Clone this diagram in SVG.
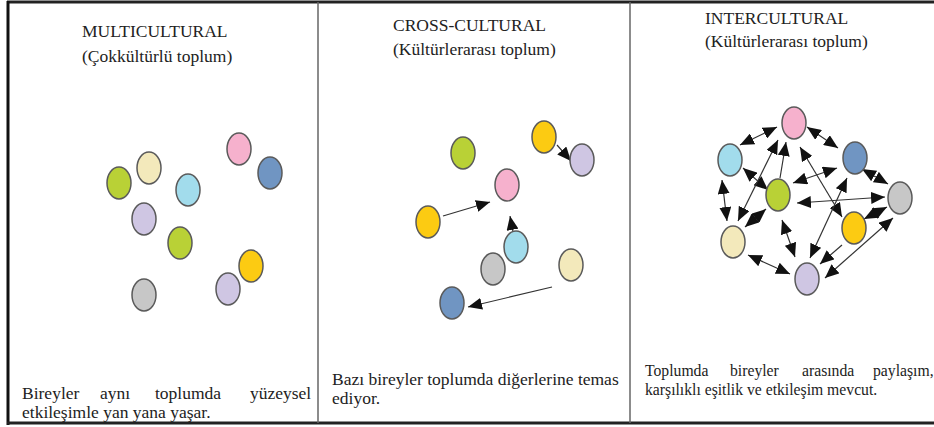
<svg xmlns="http://www.w3.org/2000/svg" width="934" height="427" viewBox="0 0 934 427">
<style>
.t{font-family:"Liberation Serif","Times New Roman",serif;font-size:17.5px;fill:#222}
.s{font-size:15.7px}
.n{stroke:#5a5a5a;stroke-width:1.5}
.c{stroke:#333;stroke-width:1.2;fill:none}
.green{fill:#b9d136}.cream{fill:#f3e9bb}.lblue{fill:#a2dcec}.lav{fill:#cfc6e3}
.pink{fill:#f6b1cd}.blue{fill:#7095c2}.yel{fill:#fccb12}.gray{fill:#c7c7c7}
</style>
<defs>
<marker id="ah" viewBox="0 0 14 12" refX="14" refY="6" markerWidth="14" markerHeight="12" markerUnits="userSpaceOnUse" orient="auto-start-reverse"><path d="M0,0 L14,6 L0,12 z" fill="#111"/></marker>
</defs>
<rect width="934" height="427" fill="#fff"/>
<g id="frame">
<line x1="7" y1="2" x2="934" y2="2" stroke="#222" stroke-width="3"/>
<line x1="8" y1="1" x2="8" y2="425" stroke="#111" stroke-width="3"/>
<line x1="7" y1="423" x2="934" y2="423" stroke="#222" stroke-width="3"/>
<line x1="318" y1="2" x2="318" y2="423" stroke="#666" stroke-width="1.5"/>
<line x1="630" y1="2" x2="630" y2="423" stroke="#666" stroke-width="1.5"/>
</g>
<g id="texts" font-family="Liberation Serif, Times New Roman, serif">
<text class="t" x="82" y="37">MULTICULTURAL</text>
<text class="t" x="82" y="62">(Çokkültürlü toplum)</text>
<text class="t" x="393" y="31">CROSS-CULTURAL</text>
<text class="t" x="393" y="55">(Kültürlerarası toplum)</text>
<text class="t" x="705" y="24">INTERCULTURAL</text>
<text class="t" x="705" y="47">(Kültürlerarası toplum)</text>
<text class="t" y="399"><tspan x="22">Bireyler</tspan><tspan x="100">aynı</tspan><tspan x="155">toplumda</tspan><tspan x="250">yüzeysel</tspan></text>
<text class="t" x="22" y="418">etkileşimle yan yana yaşar.</text>
<text class="t" x="332" y="385">Bazı bireyler toplumda diğerlerine temas</text>
<text class="t" x="332" y="404">ediyor.</text>
<text class="t s" y="376"><tspan x="645">Toplumda</tspan><tspan x="730">bireyler</tspan><tspan x="802">arasında</tspan><tspan x="873">paylaşım,</tspan></text>
<text class="t s" x="645" y="395">karşılıklı eşitlik ve etkileşim mevcut.</text>
</g>
<g id="connectors">
<line class="c" x1="443" y1="216" x2="490" y2="202" marker-end="url(#ah)"/>
<line class="c" x1="513" y1="232" x2="510" y2="216" marker-end="url(#ah)"/>
<line class="c" x1="557" y1="145" x2="571" y2="161" marker-end="url(#ah)"/>
<line class="c" x1="552" y1="287" x2="468" y2="307" marker-end="url(#ah)"/>
<line class="c" x1="777" y1="127" x2="740" y2="145" marker-start="url(#ah)" marker-end="url(#ah)"/>
<line class="c" x1="743" y1="168" x2="768" y2="190" marker-start="url(#ah)" marker-end="url(#ah)"/>
<line class="c" x1="778" y1="140" x2="738" y2="221" marker-start="url(#ah)" marker-end="url(#ah)"/>
<line class="c" x1="780" y1="178" x2="786" y2="142" marker-end="url(#ah)"/>
<line class="c" x1="722" y1="180" x2="727" y2="221" marker-start="url(#ah)" marker-end="url(#ah)"/>
<line class="c" x1="807" y1="127" x2="838" y2="148" marker-start="url(#ah)" marker-end="url(#ah)"/>
<line class="c" x1="800" y1="147" x2="842" y2="217" marker-start="url(#ah)" marker-end="url(#ah)"/>
<line class="c" x1="793" y1="183" x2="837" y2="168" marker-start="url(#ah)" marker-end="url(#ah)"/>
<line class="c" x1="797" y1="203" x2="885" y2="197" marker-start="url(#ah)" marker-end="url(#ah)"/>
<line class="c" x1="862" y1="169" x2="888" y2="184" marker-start="url(#ah)" marker-end="url(#ah)"/>
<line class="c" x1="864" y1="219" x2="887" y2="207" marker-start="url(#ah)" marker-end="url(#ah)"/>
<line class="c" x1="847" y1="178" x2="810" y2="258" marker-start="url(#ah)" marker-end="url(#ah)"/>
<line class="c" x1="842" y1="245" x2="820" y2="264" marker-end="url(#ah)"/>
<line class="c" x1="893" y1="218" x2="825" y2="278" marker-start="url(#ah)" marker-end="url(#ah)"/>
<line class="c" x1="782" y1="220" x2="795" y2="257" marker-start="url(#ah)" marker-end="url(#ah)"/>
<line class="c" x1="766" y1="209" x2="745" y2="227" marker-start="url(#ah)" marker-end="url(#ah)"/>
<line class="c" x1="748" y1="255" x2="790" y2="274" marker-start="url(#ah)" marker-end="url(#ah)"/>
</g>
<g id="multi">
<g id="m1"><ellipse class="n green" cx="119" cy="183" rx="12" ry="16"/></g>
<g id="m2"><ellipse class="n cream" cx="149" cy="168" rx="12" ry="16"/></g>
<g id="m3"><ellipse class="n lblue" cx="188" cy="190" rx="12" ry="16"/></g>
<g id="m4"><ellipse class="n lav" cx="144" cy="219" rx="12" ry="16"/></g>
<g id="m5"><ellipse class="n green" cx="180" cy="243" rx="12" ry="16"/></g>
<g id="m6"><ellipse class="n pink" cx="239" cy="149" rx="12" ry="16"/></g>
<g id="m7"><ellipse class="n blue" cx="270" cy="173" rx="12" ry="16"/></g>
<g id="m8"><ellipse class="n yel" cx="251" cy="266" rx="12" ry="16"/></g>
<g id="m9"><ellipse class="n lav" cx="228" cy="289" rx="12" ry="16"/></g>
<g id="m10"><ellipse class="n gray" cx="144" cy="295" rx="12" ry="16"/></g>
</g>
<g id="cross">
<g id="c1"><ellipse class="n green" cx="463" cy="153" rx="12" ry="16"/></g>
<g id="c2"><ellipse class="n yel" cx="544" cy="137" rx="12" ry="16"/></g>
<g id="c3"><ellipse class="n lav" cx="582" cy="160" rx="12" ry="16"/></g>
<g id="c4"><ellipse class="n pink" cx="507" cy="185" rx="12" ry="16"/></g>
<g id="c5"><ellipse class="n yel" cx="428" cy="222" rx="12" ry="16"/></g>
<g id="c6"><ellipse class="n lblue" cx="516" cy="247" rx="12" ry="16"/></g>
<g id="c7"><ellipse class="n gray" cx="493" cy="269" rx="12" ry="16"/></g>
<g id="c8"><ellipse class="n cream" cx="571" cy="265" rx="12" ry="16"/></g>
<g id="c9"><ellipse class="n blue" cx="452" cy="303" rx="12" ry="16"/></g>
</g>
<g id="inter">
<g id="i1"><ellipse class="n pink" cx="794" cy="123" rx="12" ry="16"/></g>
<g id="i2"><ellipse class="n lblue" cx="730" cy="160" rx="12" ry="16"/></g>
<g id="i3"><ellipse class="n blue" cx="855" cy="158" rx="12" ry="16"/></g>
<g id="i4"><ellipse class="n green" cx="778" cy="195" rx="12" ry="16"/></g>
<g id="i5"><ellipse class="n gray" cx="900" cy="198" rx="12" ry="16"/></g>
<g id="i6"><ellipse class="n yel" cx="854" cy="228" rx="12" ry="16"/></g>
<g id="i7"><ellipse class="n cream" cx="733" cy="242" rx="12" ry="16"/></g>
<g id="i8"><ellipse class="n lav" cx="807" cy="279" rx="12" ry="16"/></g>
</g>
</svg>
